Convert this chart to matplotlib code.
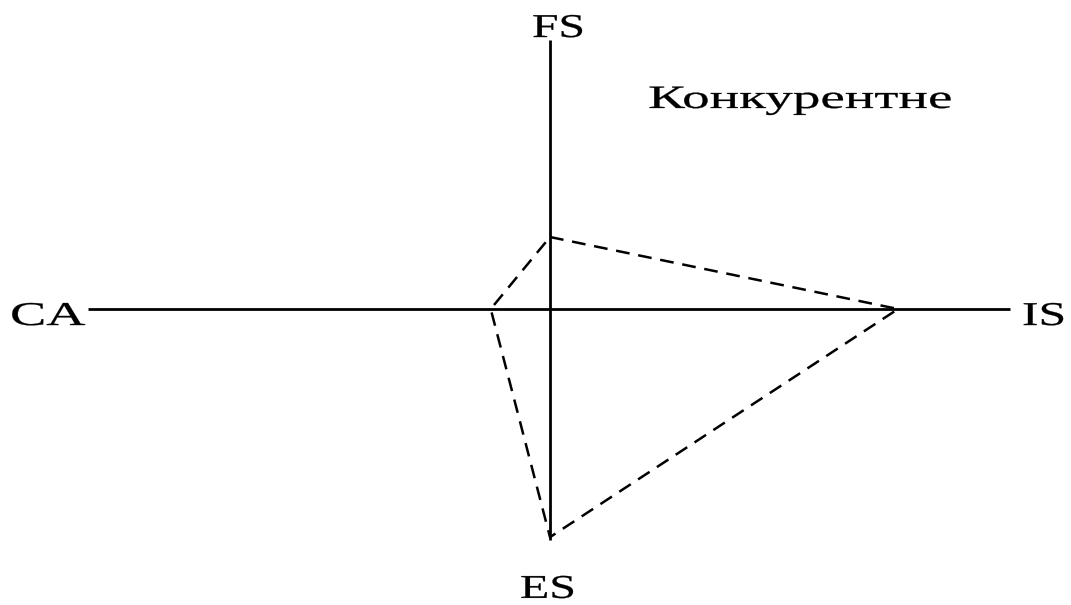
import matplotlib
matplotlib.use("Agg")
import matplotlib.pyplot as plt
from matplotlib.patheffects import AbstractPathEffect
from matplotlib.transforms import Affine2D

# Axis labels and extents (units)
axis_labels = ["FS", "IS", "ES", "CA"]
h_axis = [-6.0, 5.98]     # CA .. IS
v_axis = [-5.13, 5.98]    # ES .. FS

# Polygon vertices: FS, IS, ES, CA
poly_x = [0.0, 4.52, 0.0, -0.77]
poly_y = [1.60, 0.0, -5.07, 0.0]

title_text = "Конкурентне"


class HStretch(AbstractPathEffect):
    """Stretch text glyphs horizontally about the text's left baseline."""

    def __init__(self, sx, stroke=0.2):
        super().__init__()
        self.sx = sx
        self.stroke = stroke

    def draw_path(self, renderer, gc, tpath, affine, rgbFace=None):
        m = affine.get_matrix()
        x0, y0 = m[0, 2], m[1, 2]
        new = affine + Affine2D().translate(-x0, -y0).scale(self.sx, 1.0).translate(x0, y0)
        gc0 = renderer.new_gc()
        gc0.copy_properties(gc)
        gc0.set_linewidth(self.stroke)
        gc0.set_foreground(rgbFace if rgbFace is not None else "black")
        renderer.draw_path(gc0, tpath, new, rgbFace)
        gc0.restore()


fig = plt.figure(figsize=(10.71, 6.05), dpi=100)
ax = fig.add_axes([0, 0, 1, 1])
ax.set_xlim(-550 / 77, 521 / 77)
ax.set_ylim(-296 / 45, 309 / 45)
ax.axis("off")

ax.plot(h_axis, [0, 0], color="black", lw=2.0, solid_capstyle="butt")
ax.plot([0, 0], v_axis, color="black", lw=2.0, solid_capstyle="butt")

xs = poly_x + poly_x[:1]
ys = poly_y + poly_y[:1]
ax.plot(xs, ys, color="black", lw=1.8, linestyle=(0, (5.5, 3.5)))

font = dict(family="Liberation Serif", color="black", ha="left", va="baseline")
ax.text(-0.234, 6.044, axis_labels[0], fontsize=24,
        path_effects=[HStretch(1.43)], **font)
ax.text(6.13, -0.356, axis_labels[1], fontsize=24,
        path_effects=[HStretch(1.49)], **font)
ax.text(-0.39, -6.42, axis_labels[2], fontsize=24,
        path_effects=[HStretch(1.44)], **font)
ax.text(-7.013, -0.356, axis_labels[3], fontsize=24,
        path_effects=[HStretch(1.63)], **font)
ax.text(1.273, 4.467, title_text, fontsize=23.5,
        path_effects=[HStretch(1.69)], **font)

fig.savefig("out.png", dpi=100)
